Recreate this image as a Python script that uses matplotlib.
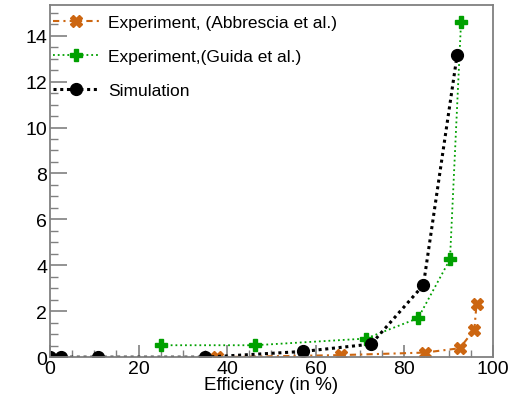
import matplotlib
matplotlib.use('Agg')
import matplotlib.pyplot as plt
from matplotlib.ticker import MultipleLocator

matplotlib.rcParams.update({'font.family': 'Liberation Sans', 'font.size': 12.5})

# Experiment, Abbrescia et al.
eff_abb = [37.6, 65.6, 84.6, 92.5, 95.8, 96.3]
val_abb = [0.0, 0.09, 0.2, 0.39, 1.2, 2.33]
# Experiment, Guida et al.
eff_gui = [25.1, 46.3, 71.3, 83.1, 90.3, 92.8]
val_gui = [0.52, 0.52, 0.81, 1.7, 4.26, 14.6]
# Simulation
eff_sim = [0.0, 2.6, 10.8, 35.0, 57.2, 72.5, 84.3, 91.9]
val_sim = [0.0, 0.0, 0.0, 0.0, 0.25, 0.57, 3.14, 13.14]

fig = plt.figure(figsize=(5.2, 4.02), dpi=100)
ax = fig.add_axes([0.096, 0.109, 0.852, 0.877])

ax.plot(eff_abb, val_abb, color='#cc6611', linestyle=(0, (3, 2, 1, 2)), linewidth=1.5,
        marker='X', markersize=8, label='Experiment, (Abbrescia et al.)')
ax.plot(eff_gui, val_gui, color='#00a000', linestyle=':', linewidth=1.3,
        marker='P', markersize=8, label='Experiment,(Guida et al.)')
ax.plot(eff_sim, val_sim, color='black', linestyle=(0, (1, 1.2)), linewidth=2.2,
        marker='o', markersize=8.5, label='Simulation')

ax.set_xlim(0, 100)
ax.set_ylim(0, 15.35)
ax.xaxis.set_major_locator(MultipleLocator(20))
ax.xaxis.set_minor_locator(MultipleLocator(5))
ax.yaxis.set_major_locator(MultipleLocator(2))
ax.yaxis.set_minor_locator(MultipleLocator(0.5))
ax.tick_params(which='both', direction='in', color='#808080', top=False, right=False,
               labelsize=14, pad=2)
ax.tick_params(which='major', length=12, width=1.2)
ax.tick_params(which='minor', length=6, width=1.0)
ax.tick_params(axis='x', which='major', length=9)
ax.tick_params(axis='x', which='minor', length=5)
for s in ax.spines.values():
    s.set_color('#808080')
    s.set_linewidth(1.3)

ax.set_xlabel('Efficiency (in %)', fontsize=13.5, labelpad=-1)
ax.legend(loc='upper left', bbox_to_anchor=(0.0, 0.982), frameon=False,
          handlelength=2.6, handletextpad=0.55, labelspacing=1.1,
          borderpad=0.2, borderaxespad=0.0)

plt.savefig('out.png', dpi=100)
